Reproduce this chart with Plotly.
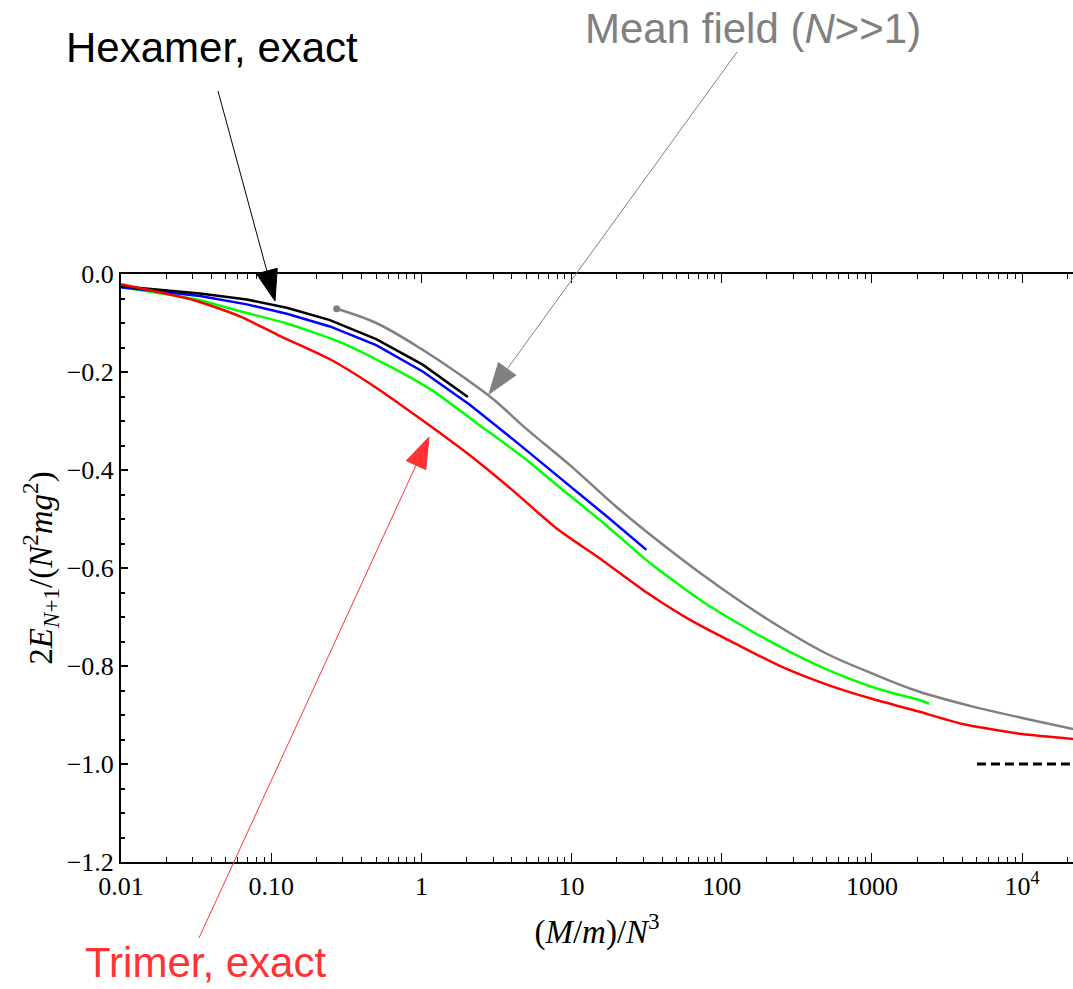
import math
import plotly.graph_objects as go

# ---- data ----
x_trimer = [0.01, 0.031, 0.0625, 0.11, 0.25, 0.5, 1, 2, 4, 8, 16, 32, 64, 128, 256, 512,
            1024, 2048, 4096, 10000, 22000]
y_trimer = [-0.021, -0.054, -0.087, -0.124, -0.175, -0.232, -0.297, -0.365, -0.440, -0.520,
            -0.584, -0.651, -0.709, -0.757, -0.803, -0.839, -0.868, -0.893, -0.919, -0.939, -0.949]

x_green = [0.01, 0.032, 0.062, 0.127, 0.287, 0.585, 1.2, 2.33, 5.0, 9.0, 16.3, 33.3, 74, 152,
           297, 578, 1160, 2050, 2400]
y_green = [-0.027, -0.052, -0.076, -0.101, -0.139, -0.185, -0.239, -0.304, -0.379, -0.444,
           -0.508, -0.590, -0.668, -0.726, -0.774, -0.815, -0.849, -0.869, -0.877]

x_blue = [0.01, 0.0336, 0.0688, 0.127, 0.246, 0.5, 1.02, 2.1, 4.1, 8.35, 17.2, 31.5]
y_blue = [-0.027, -0.045, -0.062, -0.081, -0.107, -0.145, -0.199, -0.267, -0.338, -0.415,
          -0.495, -0.563]

x_hexamer = [0.01, 0.0336, 0.0688, 0.127, 0.246, 0.5, 1.02, 2.04]
y_hexamer = [-0.025, -0.040, -0.052, -0.069, -0.094, -0.133, -0.185, -0.251]

x_mean = [0.273, 0.5, 1, 2, 3, 5, 10, 20, 50, 100, 200, 500, 1000, 2000, 5000, 10000, 22000]
y_mean = [-0.071, -0.100, -0.153, -0.215, -0.255, -0.316, -0.393, -0.476, -0.574, -0.642,
          -0.704, -0.775, -0.815, -0.851, -0.885, -0.906, -0.929]

x_limit = [5000, 22000]
y_limit = [-1.0, -1.0]

x_tickvals = [0.01, 0.1, 1, 10, 100, 1000, 10000]
x_ticktext = ["0.01", "0.10", "1", "10", "100", "1000", "10<sup>4</sup>"]
y_tickvals = [0.0, -0.2, -0.4, -0.6, -0.8, -1.0, -1.2]
y_ticktext = ["0.0", "\u22120.2", "\u22120.4", "\u22120.6", "\u22120.8", "\u22121.0", "\u22121.2"]

# ---- layout geometry (pixels) ----
W, H = 1073, 989
L, R, T, B = 121, 0, 274, 127
PW, PH = W - L - R, H - T - B

def px2paper(px, py):
    return (px - L) / PW, (H - B - py) / PH

fig = go.Figure()
fig.add_trace(go.Scatter(x=x_mean, y=y_mean, mode="lines", line_shape="spline",
                         line=dict(color="#808080", width=2.5), showlegend=False))
fig.add_trace(go.Scatter(x=x_mean[:1], y=y_mean[:1], mode="markers",
                         marker=dict(color="#808080", size=7), showlegend=False))
fig.add_trace(go.Scatter(x=x_green, y=y_green, mode="lines", line_shape="spline",
                         line=dict(color="#00ff00", width=2.5, smoothing=0.6), showlegend=False))
fig.add_trace(go.Scatter(x=x_blue, y=y_blue, mode="lines",
                         line=dict(color="#0000ff", width=2.5), showlegend=False))
fig.add_trace(go.Scatter(x=x_hexamer, y=y_hexamer, mode="lines",
                         line=dict(color="#000000", width=2.5), showlegend=False))
fig.add_trace(go.Scatter(x=x_trimer, y=y_trimer, mode="lines", line_shape="spline",
                         line=dict(color="#ff0000", width=2.5, smoothing=0.6), showlegend=False))
fig.add_trace(go.Scatter(x=x_limit, y=y_limit, mode="lines",
                         line=dict(color="#000000", width=3, dash="9px,5px"), showlegend=False))

# ---- arrows (pixel geometry -> paper) ----
arrows = [
    ((218, 91), (275, 301), "#000000"),
    ((737, 52), (489, 394), "#808080"),
    ((199, 938), (429, 437), "#ff3333"),
]
HEAD_L, HEAD_W = 31, 21.5
shapes = []
for (tx, ty), (hx, hy), col in arrows:
    dx, dy = hx - tx, hy - ty
    n = math.hypot(dx, dy)
    ux, uy = dx / n, dy / n
    bx, by = hx - HEAD_L * ux, hy - HEAD_L * uy
    nx, ny = -uy, ux
    p0 = px2paper(tx, ty)
    p1 = px2paper(bx, by)
    shapes.append(dict(type="line", xref="paper", yref="paper",
                       x0=p0[0], y0=p0[1], x1=p1[0], y1=p1[1],
                       line=dict(color=col, width=1)))
    a = px2paper(hx, hy)
    b = px2paper(bx + HEAD_W / 2 * nx, by + HEAD_W / 2 * ny)
    c = px2paper(bx - HEAD_W / 2 * nx, by - HEAD_W / 2 * ny)
    path = f"M {a[0]},{a[1]} L {b[0]},{b[1]} L {c[0]},{c[1]} Z"
    shapes.append(dict(type="path", xref="paper", yref="paper", path=path,
                       fillcolor=col, line=dict(color=col, width=1)))

labels = [
    ("Hexamer, exact", 212, 47, "middle", "#000000"),
    ("Mean field (<i>N</i>>>1)", 753, 28, "middle", "#808080"),
    ("Trimer, exact", 205.5, 988, "bottom", "#ff3333"),
]
annotations = []
for text, lx, ly, yanc, col in labels:
    ax_, ay_ = px2paper(lx, ly)
    annotations.append(dict(text=text, x=ax_, y=ay_, xref="paper", yref="paper",
                            xanchor="center", yanchor=yanc, showarrow=False,
                            font=dict(family="Liberation Sans", size=42, color=col)))

serif = "Liberation Serif"
fig.update_layout(
    width=W, height=H,
    margin=dict(l=L, r=R, t=T, b=B, pad=0),
    paper_bgcolor="white", plot_bgcolor="white",
    shapes=shapes, annotations=annotations,
    xaxis=dict(type="log", range=[-2, math.log10(22000) - 0.004],
               tickmode="array", tickvals=x_tickvals, ticktext=x_ticktext,
               ticks="inside", ticklen=9, tickwidth=1, tickcolor="black",
               minor=dict(dtick="D1", ticks="inside", ticklen=5, tickwidth=1,
                          tickcolor="black", showgrid=False),
               showline=True, linewidth=2, linecolor="black", mirror="allticks",
               showgrid=False, zeroline=False,
               tickfont=dict(family=serif, size=26, color="black"),
               title=dict(text="(<i>M</i>/<i>m</i>)/<i>N</i><sup>3</sup>",
                          font=dict(family=serif, size=33, color="black"), standoff=20)),
    yaxis=dict(range=[-1.2, 0],
               tickmode="array", tickvals=y_tickvals, ticktext=y_ticktext,
               ticks="inside", ticklen=7, tickwidth=1.5, tickcolor="black",
               minor=dict(dtick=0.05, ticks="inside", ticklen=4, tickwidth=1.5,
                          tickcolor="black", showgrid=False),
               showline=True, linewidth=2, linecolor="black", mirror=False,
               showgrid=False, zeroline=False,
               tickfont=dict(family=serif, size=26, color="black"),
               title=dict(text="2<i>E</i><sub><i>N</i>+1</sub>/(<i>N</i><sup>2</sup><i>mg</i><sup>2</sup>)",
                          font=dict(family=serif, size=33, color="black"), standoff=4)),
)

fig.write_html("out.html")
